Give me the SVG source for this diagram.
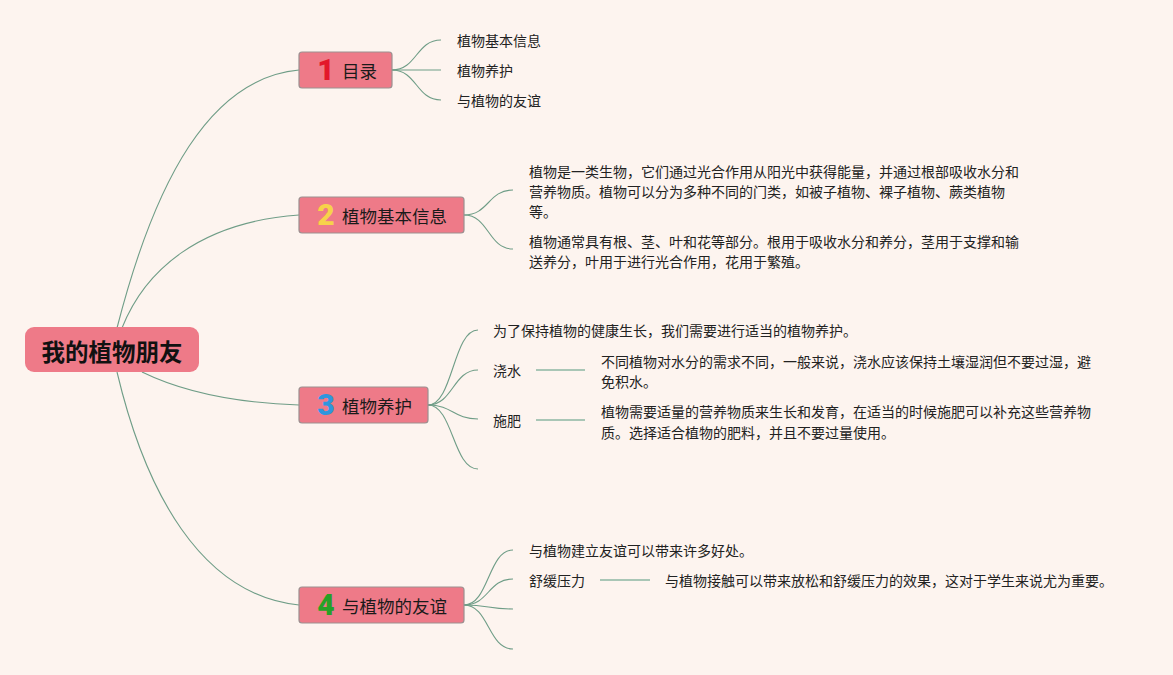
<svg xmlns="http://www.w3.org/2000/svg" width="1173" height="675" viewBox="0 0 1173 675">
<style>
.bg{fill:#FDF4EF}
.topic{fill:#EE7A88;stroke:#9C9090;stroke-width:1.2}
.root{fill:#EE7A88}
.lbl{font-family:"Noto Sans CJK SC","Noto Sans",sans-serif;font-size:17.5px;fill:#1a1a1a;dominant-baseline:central}
.rootlbl{font-family:"Noto Sans CJK SC","Noto Sans",sans-serif;font-size:23.5px;font-weight:bold;fill:#111;dominant-baseline:central;text-anchor:middle}
.num{font-family:Roboto,"Noto Sans",sans-serif;font-size:30px;font-weight:900;dominant-baseline:central;text-anchor:middle}
.txt{font-family:"Noto Sans CJK SC","Noto Sans",sans-serif;font-size:14px;fill:#222;dominant-baseline:central}
.c{fill:none;stroke:#6F9D87;stroke-width:1.1}
.s{fill:none;stroke:#A9C6B6;stroke-width:2}
</style>
<rect class="bg" x="0" y="0" width="1173" height="675"/>
<g id="connectors">
<path class="c" d="M117 328 C155 180 210 78 299 70"/>
<path class="c" d="M122 328 C145 270 200 222 299 215"/>
<path class="c" d="M142 372 C185 393 240 403 299 405"/>
<path class="c" d="M117 372 C145 490 200 595 299 605"/>
<path class="c" d="M392 70 C417 70 416 40 441 40"/>
<path class="c" d="M392 70 L441 70"/>
<path class="c" d="M392 70 C417 70 416 100 441 100"/>
<path class="c" d="M464 215 C489 215 488 190 513 190"/>
<path class="c" d="M464 215 C489 215 488 249 513 249"/>
<path class="c" d="M428 405 C453 405 453 330 478 330"/>
<path class="c" d="M428 405 C453 405 453 370 478 370"/>
<path class="c" d="M428 405 C453 405 453 419 478 419"/>
<path class="c" d="M428 405 C453 405 453 469 478 469"/>
<path class="c" d="M464 605 C489 605 488 550 513 550"/>
<path class="c" d="M464 605 C489 605 488 579 513 579"/>
<path class="c" d="M464 605 C489 605 488 609 513 609"/>
<path class="c" d="M464 605 C489 605 488 649 513 649"/>
<path class="s" d="M536 370 L585 370"/>
<path class="s" d="M536 420 L585 420"/>
<path class="s" d="M600 580 L650 580"/>
</g>
<g id="root">
<rect class="root" x="25" y="327" width="174" height="45" rx="9"/>
<text class="rootlbl" x="112" y="351">我的植物朋友</text>
</g>
<g id="node1">
<rect class="topic" x="299" y="52" width="93" height="36" rx="3"/>
<text class="num" x="326" y="69" fill="#E3172B">1</text>
<text class="lbl" x="342" y="70">目录</text>
</g>
<g id="node2">
<rect class="topic" x="299" y="197" width="165" height="36" rx="3"/>
<text class="num" x="326" y="214" fill="#F7D24A">2</text>
<text class="lbl" x="342" y="215">植物基本信息</text>
</g>
<g id="node3">
<rect class="topic" x="299" y="387" width="129" height="36" rx="3"/>
<text class="num" x="326" y="404" fill="#2E96DD">3</text>
<text class="lbl" x="342" y="405">植物养护</text>
</g>
<g id="node4">
<rect class="topic" x="299" y="587" width="165" height="36" rx="3"/>
<text class="num" x="326" y="604" fill="#27A127">4</text>
<text class="lbl" x="342" y="605">与植物的友谊</text>
</g>
<g id="n1-items">
<text class="txt" x="457" y="40">植物基本信息</text>
<text class="txt" x="457" y="70">植物养护</text>
<text class="txt" x="457" y="100">与植物的友谊</text>
</g>
<g id="n2-items">
<text class="txt" x="529" y="171">植物是一类生物，它们通过光合作用从阳光中获得能量，并通过根部吸收水分和</text>
<text class="txt" x="529" y="191">营养物质。植物可以分为多种不同的门类，如被子植物、裸子植物、蕨类植物</text>
<text class="txt" x="529" y="211">等。</text>
<text class="txt" x="529" y="241">植物通常具有根、茎、叶和花等部分。根用于吸收水分和养分，茎用于支撑和输</text>
<text class="txt" x="529" y="261">送养分，叶用于进行光合作用，花用于繁殖。</text>
</g>
<g id="n3-items">
<text class="txt" x="493" y="330">为了保持植物的健康生长，我们需要进行适当的植物养护。</text>
<text class="txt" x="493" y="370">浇水</text>
<text class="txt" x="601" y="361">不同植物对水分的需求不同，一般来说，浇水应该保持土壤湿润但不要过湿，避</text>
<text class="txt" x="601" y="381">免积水。</text>
<text class="txt" x="493" y="420">施肥</text>
<text class="txt" x="601" y="411">植物需要适量的营养物质来生长和发育，在适当的时候施肥可以补充这些营养物</text>
<text class="txt" x="601" y="432">质。选择适合植物的肥料，并且不要过量使用。</text>
</g>
<g id="n4-items">
<text class="txt" x="529" y="550">与植物建立友谊可以带来许多好处。</text>
<text class="txt" x="529" y="580">舒缓压力</text>
<text class="txt" x="665" y="580">与植物接触可以带来放松和舒缓压力的效果，这对于学生来说尤为重要。</text>
</g>
</svg>
